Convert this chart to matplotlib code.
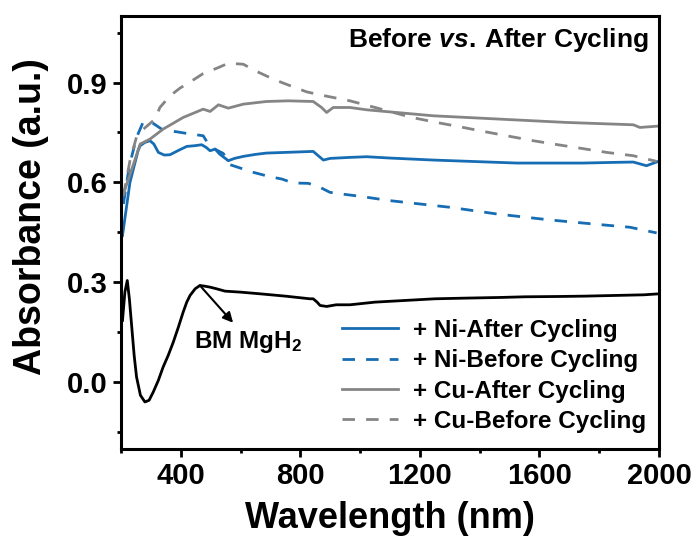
import matplotlib
matplotlib.use('Agg')
import matplotlib.pyplot as plt
from matplotlib.ticker import MultipleLocator

# ---------------- data ---------------- #
# BM MgH2 (black)
wl_bm = [205, 213, 221, 228, 236, 244, 252, 265, 280, 294, 308, 325, 341, 358,
         375, 392, 408, 420, 431, 448, 464, 480, 498, 520, 548, 600, 665, 750,
         832, 843, 856, 866, 888, 920, 966, 1050, 1150, 1250, 1350, 1468, 1550,
         1668, 1750, 1850, 1950, 2000]
ab_bm = [0.185, 0.27, 0.305, 0.25, 0.165, 0.08, 0.015, -0.04, -0.06, -0.055,
         -0.03, 0.005, 0.045, 0.08, 0.12, 0.165, 0.21, 0.24, 0.26, 0.28,
         0.29, 0.288, 0.285, 0.28, 0.273, 0.27, 0.265, 0.258, 0.25, 0.25,
         0.24, 0.23, 0.227, 0.232, 0.232, 0.24, 0.245, 0.25, 0.252, 0.254,
         0.256, 0.257, 0.258, 0.26, 0.262, 0.265]

# + Ni-After Cycling (blue solid)
wl_ni_a = [205, 230, 257, 264, 280, 297, 310, 325, 345, 364, 390, 420, 445,
           470, 485, 498, 515, 530, 559, 580, 609, 650, 687, 750, 843, 860,
           877, 900, 966, 1022, 1100, 1245, 1400, 1524, 1650, 1747, 1850,
           1914, 1958, 1995]
ab_ni_a = [0.44, 0.60, 0.695, 0.71, 0.72, 0.725, 0.715, 0.69, 0.682, 0.683,
           0.695, 0.708, 0.71, 0.713, 0.705, 0.695, 0.70, 0.685, 0.665, 0.672,
           0.678, 0.684, 0.688, 0.69, 0.693, 0.68, 0.667, 0.672, 0.675, 0.677,
           0.673, 0.667, 0.662, 0.658, 0.658, 0.658, 0.66, 0.661, 0.65, 0.662]

# + Ni-Before Cycling (blue dashed)
wl_ni_b = [208, 228, 252, 275, 308, 341, 386, 420, 475, 498, 542, 565, 609,
           643, 698, 738, 776, 827, 866, 899, 938, 1000, 1100, 1200, 1301,
           1457, 1635, 1802, 1903, 1992]
ab_ni_b = [0.535, 0.65, 0.735, 0.783, 0.777, 0.757, 0.752, 0.747, 0.74, 0.707,
           0.687, 0.653, 0.64, 0.63, 0.617, 0.61, 0.598, 0.597, 0.585, 0.57,
           0.565, 0.558, 0.545, 0.535, 0.525, 0.505, 0.487, 0.473, 0.465, 0.448]

# + Cu-After Cycling (grey solid)
wl_cu_a = [208, 242, 264, 297, 341, 408, 475, 498, 526, 559, 609, 687, 760,
           843, 871, 888, 910, 966, 1022, 1245, 1468, 1691, 1914, 1936, 1997]
ab_cu_a = [0.565, 0.655, 0.715, 0.73, 0.76, 0.795, 0.82, 0.813, 0.833, 0.823,
           0.835, 0.843, 0.845, 0.843, 0.825, 0.81, 0.825, 0.825, 0.818, 0.80,
           0.79, 0.78, 0.773, 0.765, 0.769]

# + Cu-Before Cycling (grey dashed)
wl_cu_b = [208, 230, 252, 275, 314, 330, 364, 397, 437, 475, 526, 559, 609,
           650, 698, 738, 776, 821, 855, 899, 966, 1050, 1173, 1256, 1345,
           1401, 1490, 1580, 1669, 1741, 1825, 1914, 1992]
ab_cu_b = [0.56, 0.665, 0.737, 0.76, 0.79, 0.825, 0.86, 0.883, 0.905, 0.927,
           0.945, 0.958, 0.955, 0.935, 0.915, 0.90, 0.887, 0.872, 0.865, 0.857,
           0.845, 0.825, 0.795, 0.78, 0.765, 0.755, 0.74, 0.725, 0.712, 0.702,
           0.69, 0.68, 0.663]

labels = ['+ Ni-After Cycling', '+ Ni-Before Cycling',
          '+ Cu-After Cycling', '+ Cu-Before Cycling']

# ---------------------------- style ---------------------------------- #
blue = '#176db3'
grey = '#858585'
dash = (0, (4.5, 4))

plt.rcParams['font.family'] = ['Liberation Sans', 'DejaVu Sans']
plt.rcParams['font.weight'] = 'bold'
plt.rcParams['mathtext.fontset'] = 'custom'
plt.rcParams['mathtext.rm'] = 'Liberation Sans:bold'
plt.rcParams['mathtext.bf'] = 'Liberation Sans:bold'
plt.rcParams['mathtext.it'] = 'Liberation Sans:bold:italic'

fig = plt.figure(figsize=(6.97, 5.40), dpi=100)
ax = fig.add_axes([0.1736, 0.1694, 0.7719, 0.8010])

ax.plot(wl_bm, ab_bm, color='black', lw=2.0)
ax.plot(wl_ni_a, ab_ni_a, color=blue, lw=2.0, label=labels[0])
ax.plot(wl_ni_b, ab_ni_b, color=blue, lw=2.0, ls=dash, label=labels[1])
ax.plot(wl_cu_a, ab_cu_a, color=grey, lw=2.0, label=labels[2])
ax.plot(wl_cu_b, ab_cu_b, color=grey, lw=2.0, ls=dash, label=labels[3])

ax.set_xlim(200, 2000)
ax.set_ylim(-0.2, 1.1)
ax.xaxis.set_major_locator(MultipleLocator(400))
ax.xaxis.set_minor_locator(MultipleLocator(200))
ax.yaxis.set_major_locator(MultipleLocator(0.3))
ax.yaxis.set_minor_locator(MultipleLocator(0.15))
ax.set_xticks([400, 800, 1200, 1600, 2000])
ax.yaxis.set_major_formatter(plt.FormatStrFormatter('%.1f'))

for s in ax.spines.values():
    s.set_linewidth(2.2)
ax.tick_params(which='major', direction='out', length=5.5, width=2.0,
               labelsize=21, pad=4)
ax.tick_params(which='minor', direction='out', length=3, width=2.0)

ax.set_xlabel('Wavelength (nm)', fontsize=26, fontweight='bold')
ax.set_ylabel('Absorbance (a.u.)', fontsize=27, fontweight='bold')
ax.yaxis.set_label_coords(-0.134, 0.536)
ax.xaxis.set_label_coords(0.5, -0.121)

ax.text(0.98, 0.944, r'Before $vs.\,$After Cycling', transform=ax.transAxes,
        ha='right', va='center', fontsize=19, fontweight='bold')

ax.annotate('', xy=(575, 0.178), xytext=(464, 0.29),
            arrowprops=dict(arrowstyle='-|>', color='black', lw=1.5,
                            mutation_scale=15, shrinkA=0, shrinkB=0))
ax.text(445, 0.12, r'BM MgH$_2$', ha='left', va='center', fontsize=17.5)

leg = ax.legend(loc='center left', bbox_to_anchor=(0.411, 0.168),
                frameon=False, fontsize=17.5, handlelength=2.3,
                handletextpad=0.6, labelspacing=0.3, borderpad=0,
                borderaxespad=0)

fig.savefig('out.png', dpi=100)
